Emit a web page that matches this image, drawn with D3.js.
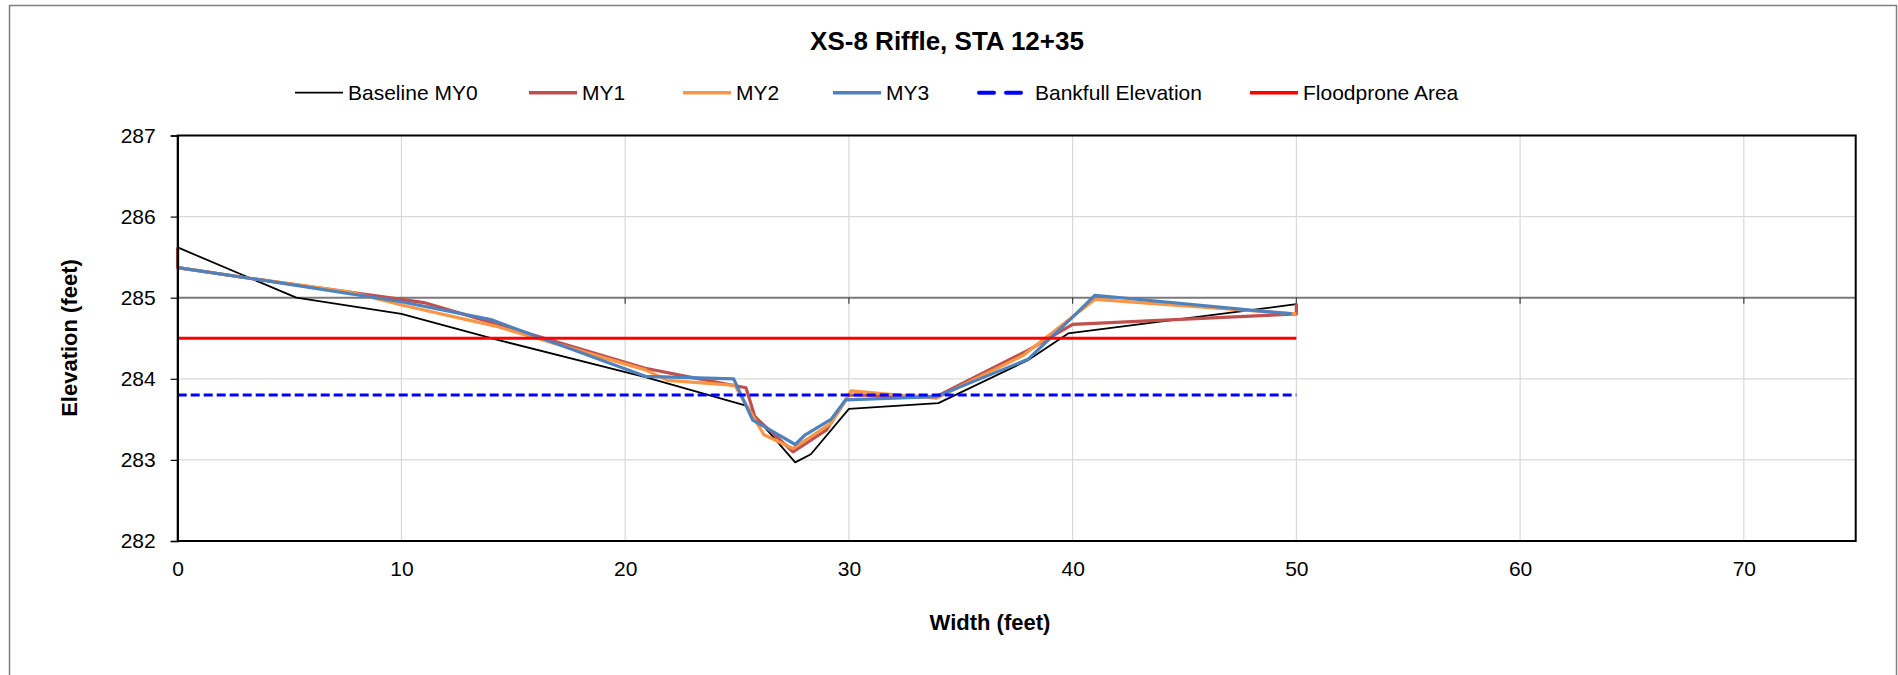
<!DOCTYPE html>
<html>
<head>
<meta charset="utf-8">
<script src="https://cdn.jsdelivr.net/npm/d3@7"></script>
<style>
  html, body { margin: 0; padding: 0; background: #fff; }
  svg { display: block; font-family: "Liberation Sans", Arial, sans-serif; }
</style>
</head>
<body>
<svg id="chart" width="1898" height="675"></svg>
<script>
// ---------- DATA ----------
const chartTitle = "XS-8 Riffle, STA 12+35";
const xTitle = "Width (feet)";
const yTitle = "Elevation (feet)";
const xTicks = [0, 10, 20, 30, 40, 50, 60, 70];
const yTicks = [282, 283, 284, 285, 286, 287];

const baselineMY0 = [
  [0, 285.62], [5.3, 285.0], [10, 284.8], [14.3, 284.48], [20.9, 284.02],
  [25.4, 283.67], [27.6, 282.97], [28.3, 283.07], [30, 283.63], [34, 283.7],
  [38, 284.23], [39.8, 284.56], [50, 284.92]
];
const my1 = [
  [0, 285.62], [0, 285.37], [3.2, 285.24], [10, 284.98], [11, 284.94],
  [14.2, 284.68], [20.9, 284.13], [22.9, 284.02], [25.4, 283.89], [25.8, 283.53],
  [27.5, 283.1], [29, 283.37], [30, 283.8], [33.9, 283.78], [38, 284.35],
  [40, 284.67], [50, 284.8], [50, 284.93]
];
const my2 = [
  [0, 285.37], [3.2, 285.24], [7.7, 285.07], [10, 284.91], [14.2, 284.65],
  [20.9, 284.11], [21.9, 283.98], [24.9, 283.92], [26.2, 283.31], [27.5, 283.14],
  [29.2, 283.45], [30.1, 283.85], [33.9, 283.76], [37.8, 284.29], [41, 284.98],
  [50, 284.8]
];
const my3 = [
  [0, 285.37], [3.2, 285.24], [10, 284.95], [14, 284.73], [20.9, 284.03],
  [24.85, 284.0], [25.7, 283.49], [26.1, 283.43], [27.6, 283.19], [28.05, 283.31],
  [29.2, 283.5], [29.85, 283.74], [33.9, 283.78], [38, 284.24], [40, 284.76],
  [41, 285.03], [49.8, 284.8]
];
const bankfull = [[0, 283.8], [50, 283.8]];
const floodprone = [[0, 284.5], [50, 284.5]];

const seriesNames = ["Baseline MY0", "MY1", "MY2", "MY3", "Bankfull Elevation", "Floodprone Area"];
const seriesData = [baselineMY0, my1, my2, my3, bankfull, floodprone];

// ---------- STYLE / LAYOUT ----------
const seriesStyle = [
  { color: "#000000", width: 1.8, dash: null },
  { color: "#c0504d", width: 3.2, dash: null },
  { color: "#f79646", width: 3.2, dash: null },
  { color: "#4f81bd", width: 3.2, dash: null },
  { color: "#0000ff", width: 3, dash: "9,4" },
  { color: "#ff0000", width: 3, dash: null }
];
const legendX = [295, 529, 683, 833, 979, 1250];

const svg = d3.select("#chart");
const plot = { left: 177.7, right: 1855.7, top: 135.5, bottom: 541 };

const x = d3.scaleLinear().domain([0, 75]).range([plot.left, plot.right]);
const y = d3.scaleLinear().domain([282, 287]).range([plot.bottom, plot.top]);

// outer chart border
svg.append("rect")
  .attr("x", 9.5).attr("y", 5.5).attr("width", 1887).attr("height", 700)
  .attr("fill", "#fff").attr("stroke", "#7f7f7f").attr("stroke-width", 1.5);

// gridlines
const g = svg.append("g");
g.selectAll("line.vg").data(xTicks.filter(d => d > 0)).join("line")
  .attr("x1", d => x(d)).attr("x2", d => x(d))
  .attr("y1", plot.top).attr("y2", plot.bottom)
  .attr("stroke", "#d9d9d9").attr("stroke-width", 1.2);
g.selectAll("line.hg").data(yTicks.filter(d => d !== 282 && d !== 287 && d !== 285)).join("line")
  .attr("x1", plot.left).attr("x2", plot.right)
  .attr("y1", d => y(d)).attr("y2", d => y(d))
  .attr("stroke", "#d9d9d9").attr("stroke-width", 1.2);

// horizontal axis crossing at 285
g.append("line")
  .attr("x1", plot.left).attr("x2", plot.right)
  .attr("y1", y(285)).attr("y2", y(285))
  .attr("stroke", "#7a7a7a").attr("stroke-width", 2);
g.selectAll("line.mt").data(xTicks).join("line")
  .attr("x1", d => x(d)).attr("x2", d => x(d))
  .attr("y1", y(285)).attr("y2", y(285) + 6)
  .attr("stroke", "#404040").attr("stroke-width", 1.2);

// series
const line = d3.line().x(d => x(d[0])).y(d => y(d[1]));
seriesData.forEach((data, i) => {
  const s = seriesStyle[i];
  svg.append("path")
    .datum(data)
    .attr("d", line)
    .attr("fill", "none")
    .attr("stroke", s.color)
    .attr("stroke-width", s.width)
    .attr("stroke-linejoin", "round")
    .attr("stroke-dasharray", s.dash);
});

// plot border
svg.append("rect")
  .attr("x", plot.left).attr("y", plot.top)
  .attr("width", plot.right - plot.left).attr("height", plot.bottom - plot.top)
  .attr("fill", "none").attr("stroke", "#000").attr("stroke-width", 2);

// y axis
const yAxis = svg.append("g")
  .attr("transform", `translate(${plot.left},0)`)
  .call(d3.axisLeft(y).tickValues(yTicks).tickSize(7).tickPadding(15).tickFormat(d3.format("d")));
yAxis.select(".domain").attr("stroke", "#000").attr("stroke-width", 1.5);
yAxis.selectAll(".tick line").attr("stroke", "#000").attr("stroke-width", 1.2);
yAxis.selectAll("text").attr("font-size", 21).attr("fill", "#000")
  .attr("font-family", "'Liberation Sans', Arial, sans-serif");

// x axis (labels low)
const xAxis = svg.append("g")
  .attr("transform", `translate(0,${plot.bottom})`)
  .call(d3.axisBottom(x).tickValues(xTicks).tickSize(0).tickPadding(20).tickFormat(d3.format("d")));
xAxis.select(".domain").remove();
xAxis.selectAll("text").attr("font-size", 21).attr("fill", "#000")
  .attr("font-family", "'Liberation Sans', Arial, sans-serif");

// titles
svg.append("text").attr("x", 947).attr("y", 50).attr("text-anchor", "middle")
  .attr("font-size", 26).attr("font-weight", "bold").text(chartTitle);
svg.append("text").attr("x", 990).attr("y", 630).attr("text-anchor", "middle")
  .attr("font-size", 22).attr("font-weight", "bold").text(xTitle);
svg.append("text").attr("transform", "translate(77,338) rotate(-90)").attr("text-anchor", "middle")
  .attr("font-size", 22).attr("font-weight", "bold").text(yTitle);

// legend
const legY = 92.7;
seriesNames.forEach((name, i) => {
  const s = seriesStyle[i];
  const lx = legendX[i];
  const lg = svg.append("g");
  if (s.dash) {
    [[lx, lx + 15], [lx + 27, lx + 42]].forEach(seg => {
      lg.append("line").attr("x1", seg[0]).attr("x2", seg[1])
        .attr("y1", legY).attr("y2", legY)
        .attr("stroke", s.color).attr("stroke-width", 4).attr("stroke-linecap", "round");
    });
  } else {
    lg.append("line").attr("x1", lx).attr("x2", lx + 48)
      .attr("y1", legY).attr("y2", legY)
      .attr("stroke", s.color).attr("stroke-width", s.width === 1.8 ? 1.8 : 3.5);
  }
  lg.append("text").attr("x", s.dash ? lx + 56 : lx + 53).attr("y", legY + 7)
    .attr("font-size", 21).attr("fill", "#000").text(name);
});
</script>
</body>
</html>
